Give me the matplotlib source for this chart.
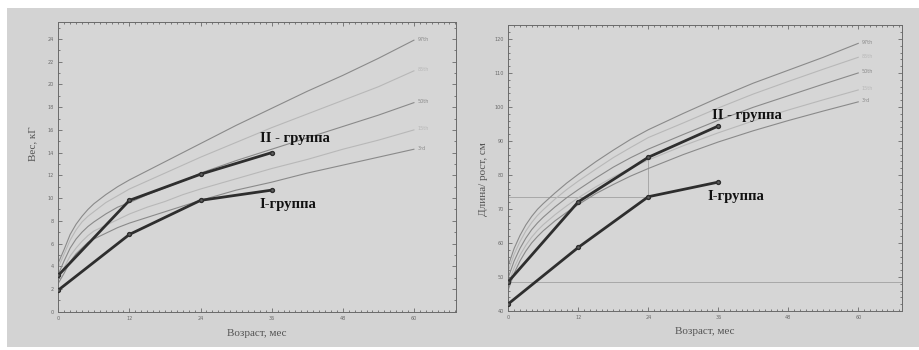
import matplotlib
matplotlib.use("Agg")
import matplotlib.pyplot as plt
from matplotlib.patches import Rectangle
from matplotlib.ticker import MultipleLocator

# --- percentile curves ---
ages = [0, 1, 2, 3, 4, 5, 6, 8, 10, 12, 15, 18, 21, 24, 30, 36, 42, 48, 54, 60]

w_p3 = [2.5, 3.4, 4.4, 5.1, 5.6, 6.1, 6.4, 6.9, 7.4, 7.8, 8.3, 8.8, 9.3, 9.8, 10.7, 11.4, 12.2, 12.9, 13.6, 14.3]
w_p15 = [2.9, 3.9, 4.9, 5.6, 6.2, 6.7, 7.1, 7.6, 8.1, 8.6, 9.2, 9.7, 10.3, 10.8, 11.7, 12.6, 13.4, 14.3, 15.1, 16.0]
w_p50 = [3.3, 4.5, 5.6, 6.4, 7.0, 7.5, 7.9, 8.6, 9.2, 9.6, 10.3, 10.9, 11.5, 12.2, 13.3, 14.3, 15.3, 16.3, 17.3, 18.4]
w_p85 = [3.9, 5.1, 6.3, 7.2, 7.9, 8.4, 8.8, 9.6, 10.2, 10.8, 11.5, 12.2, 12.9, 13.6, 14.9, 16.2, 17.4, 18.6, 19.8, 21.2]
w_p97 = [4.3, 5.5, 6.8, 7.7, 8.4, 9.0, 9.5, 10.3, 11.0, 11.6, 12.4, 13.2, 14.0, 14.8, 16.4, 17.9, 19.4, 20.8, 22.3, 23.9]

h_p3 = [46.3, 51.1, 54.7, 57.6, 60.0, 61.9, 63.6, 66.5, 69.0, 71.3, 74.5, 77.2, 79.7, 81.9, 86.0, 89.7, 93.0, 96.0, 98.8, 101.5]
h_p15 = [47.9, 52.7, 56.4, 59.3, 61.7, 63.7, 65.4, 68.3, 70.9, 73.3, 76.5, 79.4, 82.0, 84.4, 88.6, 92.4, 95.9, 99.1, 102.1, 105.0]
h_p50 = [49.9, 54.7, 58.4, 61.4, 63.9, 65.9, 67.6, 70.6, 73.3, 75.7, 79.1, 82.3, 85.1, 87.6, 91.9, 96.1, 99.9, 103.3, 106.7, 110.0]
h_p85 = [51.8, 56.7, 60.4, 63.5, 66.0, 68.1, 69.8, 72.9, 75.7, 78.2, 81.7, 85.1, 88.1, 91.0, 95.3, 99.7, 103.8, 107.5, 111.1, 114.6]
h_p97 = [53.4, 58.4, 62.2, 65.3, 67.8, 69.9, 71.6, 74.7, 77.6, 80.2, 83.9, 87.3, 90.5, 93.3, 98.1, 102.7, 107.0, 110.8, 114.6, 118.7]

pct_labels = ['3rd', '15th', '50th', '85th', '97th']

# --- group data ---
group_ages = [0, 12, 24, 36]
w_group1 = [1.9, 6.8, 9.8, 10.7]
w_group2 = [3.2, 9.8, 12.1, 14.0]
h_group1 = [42.1, 58.7, 73.6, 77.9]
h_group2 = [48.6, 72.1, 85.2, 94.4]

W, H = 919, 350
fig = plt.figure(figsize=(W / 100, H / 100), dpi=100)
fig.patch.set_facecolor('white')
bg = Rectangle((7 / W, 3 / H), 912 / W, 339 / H, transform=fig.transFigure,
               facecolor='#d3d3d3', edgecolor='none', zorder=-5)
fig.add_artist(bg)

serif = ['Liberation Serif', 'DejaVu Serif']


def setup(ax, xmax, ylim, ymajor, yminor):
    ax.set_facecolor('#d6d6d6')
    ax.set_xlim(0, xmax)
    ax.set_ylim(*ylim)
    ax.xaxis.set_major_locator(MultipleLocator(12))
    ax.xaxis.set_minor_locator(MultipleLocator(1))
    ax.yaxis.set_major_locator(MultipleLocator(ymajor))
    ax.yaxis.set_minor_locator(MultipleLocator(yminor))
    ax.tick_params(which='both', direction='in', top=True, right=True,
                   colors='#6a6a6a', labelsize=3.5, labelcolor='#6a6a6a', width=0.6)
    ax.tick_params(which='major', length=3, pad=3)
    ax.tick_params(which='minor', length=1.5)
    for sp in ax.spines.values():
        sp.set_color('#6a6a6a')
        sp.set_linewidth(0.7)


def curves(ax, values, dy):
    styles = {'3rd': '#8a8a8a', '15th': '#b8b8b8', '50th': '#8a8a8a',
              '85th': '#b8b8b8', '97th': '#8a8a8a'}
    for lab, vals in zip(pct_labels, values):
        ax.plot(ages, vals, color=styles[lab], lw=0.8, zorder=2)
        ax.text(ages[-1] + 0.6, vals[-1] + dy, lab, fontsize=3.5,
                color=styles[lab], va='center', ha='left')


def groups(ax, g1, g2):
    for g in (g1, g2):
        ax.plot(group_ages, g, color='#2e2e2e', lw=2.0, marker='o', ms=2.8,
                mfc='#606060', mec='#2e2e2e', zorder=4)


# --- left: weight ---
ax1 = fig.add_axes([58.3 / W, (H - 311.7) / H, 397.7 / W, 289.7 / H])
setup(ax1, 67.1, (0, 25.5), 2, 1)
curves(ax1, [w_p3, w_p15, w_p50, w_p85, w_p97], 0.1)
groups(ax1, w_group1, w_group2)
ax1.text(34, 14.9, 'II - группа', fontsize=10.5, fontweight='bold', family=serif, color='#111111')
ax1.text(34, 9.1, 'I-группа', fontsize=10.5, fontweight='bold', family=serif, color='#111111')
ax1.set_xlabel('Возраст, мес', fontsize=8, family=serif, color='#555555', labelpad=6)
ax1.set_ylabel('Вес, кГ', fontsize=8, family=serif, color='#555555')
ax1.yaxis.set_label_coords(-0.054, 0.58)

# --- right: length / height ---
ax2 = fig.add_axes([508.3 / W, (H - 311) / H, 393.7 / W, 286 / H])
setup(ax2, 67.5, (40, 124.1), 10, 2)
curves(ax2, [h_p3, h_p15, h_p50, h_p85, h_p97], 0.3)
ax2.axhline(h_group2[0], color='#a8a8a8', lw=0.7, zorder=1)
ax2.plot([0, 24], [h_group1[2], h_group1[2]], color='#a8a8a8', lw=0.7, zorder=1)
ax2.plot([24, 24], [h_group1[2], h_group2[2]], color='#a8a8a8', lw=0.7, zorder=1)
groups(ax2, h_group1, h_group2)
ax2.text(35, 96.5, 'II - группа', fontsize=10.5, fontweight='bold', family=serif, color='#111111')
ax2.text(34.2, 72.5, 'I-группа', fontsize=10.5, fontweight='bold', family=serif, color='#111111')
ax2.set_xlabel('Возраст, мес', fontsize=8, family=serif, color='#555555', labelpad=5)
ax2.set_ylabel('Длина/ рост, см', fontsize=8, family=serif, color='#555555')
ax2.yaxis.set_label_coords(-0.052, 0.46)

fig.savefig('out.png', dpi=100)
